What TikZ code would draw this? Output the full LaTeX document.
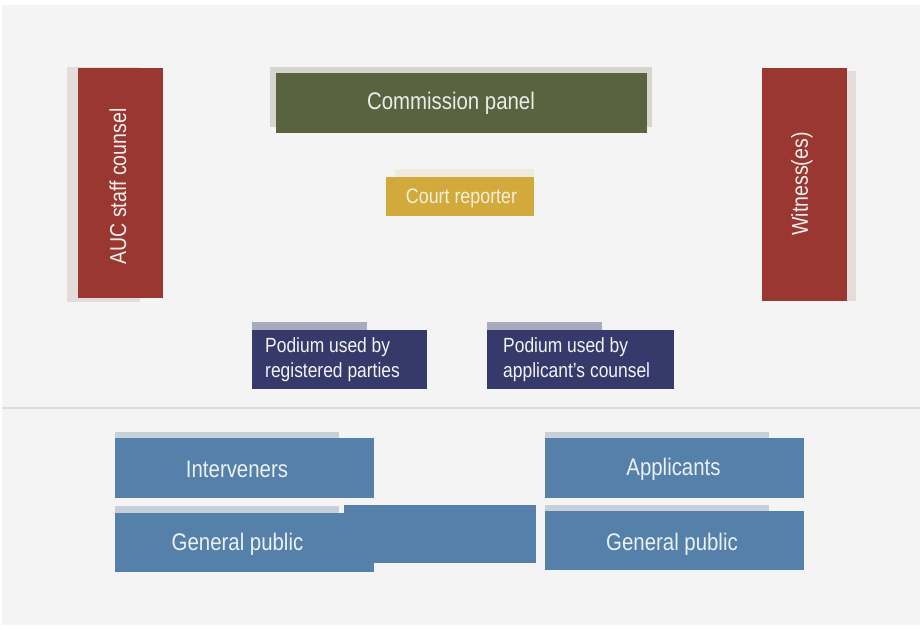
\documentclass[tikz,border=0pt]{standalone}
\usepackage{fontspec}
\newfontfamily\roomfont[FakeStretch=0.85]{Liberation Sans}
\begin{document}
\begin{tikzpicture}[x=1pt,y=-1pt,
  blk/.style={inner sep=0pt, outer sep=0pt, anchor=north west},
  lbl/.style={inner sep=0pt, font=\roomfont},
  big/.style={lbl, font=\roomfont\fontsize{24}{28}\selectfont},
  mid/.style={lbl, font=\roomfont\fontsize{21}{25}\selectfont},
]
\definecolor{floor}{HTML}{F4F4F4}
\definecolor{rust}{HTML}{9B3731}
\definecolor{rustshade}{HTML}{E2DDDA}
\definecolor{olive}{HTML}{5A6340}
\definecolor{oliveshade}{HTML}{D6D6CE}
\definecolor{mustard}{HTML}{D2A93B}
\definecolor{mustardshade}{HTML}{EFEBE0}
\definecolor{navy}{HTML}{363A6A}
\definecolor{navyshade}{HTML}{A9AABD}
\definecolor{steel}{HTML}{5580AA}
\definecolor{steelshade}{HTML}{C7CFD9}
\definecolor{divider}{HTML}{DCDCDC}

\useasboundingbox (0,0) rectangle (923,629);
\fill[white] (0,0) rectangle (923,629);
\fill[floor] (2,5) rectangle (920,625);

% front of the room
\node[blk, fill=rustshade, minimum width=73, minimum height=235] (aucsh) at (67,67) {};
\node[blk, fill=rust, minimum width=85, minimum height=230] (auc) at (78,68) {};
\node[big, text=white!92!rust, rotate=90, font=\roomfont\fontsize{23}{27}\selectfont] (auct) at (118,186.5) {AUC staff counsel};

\node[blk, fill=oliveshade, minimum width=382, minimum height=60] (cpsh) at (270,67) {};
\node[blk, fill=olive, minimum width=371, minimum height=60] (cp) at (276,73) {};
\node[big, text=white!88!olive] (cpt) at (451,103) {Commission panel};

\node[blk, fill=mustardshade, minimum width=139, minimum height=10] (crsh) at (395,169) {};
\node[blk, fill=mustard, minimum width=148, minimum height=39] (cr) at (386,177) {};
\node[mid, text=white!82!mustard] (crt) at (461.5,198) {Court reporter};

\node[blk, fill=rustshade, minimum width=10, minimum height=230] (witsh) at (846,71) {};
\node[blk, fill=rust, minimum width=85, minimum height=233] (wit) at (762,68) {};
\node[big, text=white!92!rust, rotate=90, font=\roomfont\fontsize{23}{27}\selectfont] (witt) at (802,184) {Witness(es)};

% podiums
\node[blk, fill=navyshade, minimum width=115, minimum height=9] (p1sh) at (252,322) {};
\node[blk, fill=navy, minimum width=175, minimum height=59] (p1) at (252,330) {};
\node[mid, anchor=west, align=left, text=white!94!navy, font=\roomfont\fontsize{20.5}{25}\selectfont] (p1t) at (265,360) {Podium used by\\registered parties};

\node[blk, fill=navyshade, minimum width=115, minimum height=9] (p2sh) at (487,322) {};
\node[blk, fill=navy, minimum width=187, minimum height=59] (p2) at (487,330) {};
\node[mid, anchor=west, align=left, text=white!94!navy, font=\roomfont\fontsize{20.5}{25}\selectfont] (p2t) at (503,360) {Podium used by\\applicant’s counsel};

% bar separating the gallery
\coordinate (barl) at (2,408);
\coordinate (barr) at (920,408);
\draw[divider, line width=1.5pt] (barl) -- (barr);

% gallery seating
\node[blk, fill=steelshade, minimum width=224, minimum height=7] (ivsh) at (115,432) {};
\node[blk, fill=steel, minimum width=259, minimum height=60] (iv) at (115,438) {};
\node[big, text=white!88!steel] (ivt) at (237,469) {Interveners};

\node[blk, fill=steelshade, minimum width=224, minimum height=8] (gp1sh) at (115,506) {};
\node[blk, fill=steel, minimum width=259, minimum height=59] (gp1) at (115,513) {};
\node[blk, fill=steel, minimum width=192, minimum height=58] (gp1x) at (344,505) {};
\node[big, text=white!88!steel] (gp1t) at (237.5,544) {General public};

\node[blk, fill=steelshade, minimum width=224, minimum height=7] (apsh) at (545,432) {};
\node[blk, fill=steel, minimum width=259, minimum height=60] (ap) at (545,438) {};
\node[big, text=white!88!steel] (apt) at (673.5,469) {Applicants};

\node[blk, fill=steelshade, minimum width=224, minimum height=7] (gp2sh) at (545,505) {};
\node[blk, fill=steel, minimum width=259, minimum height=59] (gp2) at (545,511) {};
\node[big, text=white!88!steel] (gp2t) at (672,544) {General public};
\end{tikzpicture}
\end{document}
